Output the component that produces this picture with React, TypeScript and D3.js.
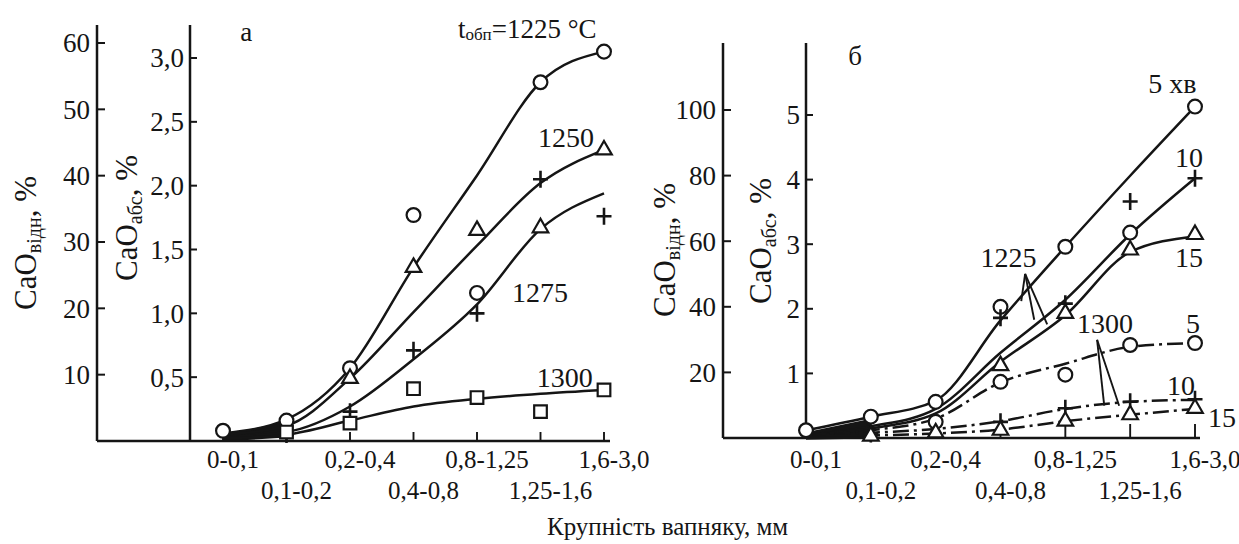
import React from "react"
import * as d3 from "d3"

const FONT = '"Liberation Serif", "Times New Roman", serif'
const INK = "#151515"

// limestone size fractions, mm
const SIZES = ["0-0,1", "0,1-0,2", "0,2-0,4", "0,4-0,8", "0,8-1,25", "1,25-1,6", "1,6-3,0"]

// panel а: y ticks
const A_ABS_TICKS = [0.5, 1, 1.5, 2, 2.5, 3]
const A_REL_TICKS = [10, 20, 30, 40, 50, 60]

// panel а: fitted curves (CaO abs, %)
const A_LINE_1225 = [0.06, 0.17, 0.57, 1.36, 2.08, 2.81, 3.05]
const A_LINE_1250 = [0.05, 0.12, 0.49, 1.01, 1.53, 2.02, 2.28]
const A_LINE_1275 = [0.03, 0.07, 0.27, 0.64, 1.07, 1.66, 1.94]
const A_LINE_1300 = [0.02, 0.05, 0.16, 0.27, 0.33, 0.37, 0.4]

// panel а: measured points
const A_CIRCLES = [0.08, 0.16, 0.57, 1.77, 1.16, 2.81, 3.05]
const A_TRIANGLES = [null, null, 0.49, 1.36, 1.65, 1.67, 2.28]
const A_PLUSES = [null, 0.05, 0.23, 0.71, 1.0, 2.05, 1.76]
const A_SQUARES = [null, 0.07, 0.14, 0.41, 0.34, 0.23, 0.4]

// panel б: y ticks
const B_ABS_TICKS = [1, 2, 3, 4, 5]
const B_REL_TICKS = [20, 40, 60, 80, 100]

// panel б: fitted curves, 1225 °C (solid) and 1300 °C (dash-dot)
const B_LINE_5 = [0.12, 0.33, 0.58, 1.82, 2.96, 4.06, 5.13]
const B_LINE_10 = [0.05, 0.18, 0.45, 1.32, 2.14, 3.15, 4.02]
const B_LINE_15 = [0.04, 0.15, 0.38, 1.18, 1.9, 2.88, 3.12]
const B_DASH_5 = [0.04, 0.12, 0.3, 0.86, 1.15, 1.41, 1.47]
const B_DASH_10 = [0.03, 0.08, 0.14, 0.26, 0.45, 0.56, 0.59]
const B_DASH_15 = [0.02, 0.04, 0.07, 0.13, 0.26, 0.36, 0.45]

// panel б: measured points
const B_CIRCLES_1225 = [0.12, 0.33, 0.56, 2.03, 2.96, 3.18, 5.13]
const B_PLUSES_1225 = [null, null, null, 1.86, 2.08, 3.66, 4.02]
const B_TRIANGLES_1225 = [null, null, null, 1.12, 1.93, 2.91, 3.15]
const B_CIRCLES_1300 = [null, null, 0.25, 0.87, 0.98, 1.44, 1.47]
const B_PLUSES_1300 = [null, 0.06, null, 0.25, 0.46, 0.56, 0.6]
const B_TRIANGLES_1300 = [null, 0.03, 0.08, 0.12, 0.26, 0.36, 0.46]

// in-plot labels: [text, category index, CaO abs]
const A_NOTES = [
  ["1250", 4.96, 2.3],
  ["1275", 4.55, 1.09],
  ["1300", 4.94, 0.42],
]
const B_NOTES = [
  ["5 хв", 5.28, 5.34],
  ["10", 5.69, 4.2],
  ["15", 5.69, 2.65],
  ["1225", 2.69, 2.65],
  ["1300", 4.18, 1.63],
  ["5", 5.86, 1.63],
  ["10", 5.57, 0.67],
  ["15", 6.2, 0.17],
]

const fmtComma = (v) => d3.format(".1f")(v).replace(".", ",")

const Marker = ({ kind, x, y }) => {
  if (kind === "plus") {
    return (
      <path
        d={`M${x - 7.5},${y}H${x + 7.5}M${x},${y - 8.5}V${y + 8.5}`}
        stroke={INK}
        strokeWidth={2.6}
      />
    )
  }
  const type =
    kind === "circle" ? d3.symbolCircle : kind === "square" ? d3.symbolSquare : d3.symbolTriangle
  const size = kind === "circle" ? 150 : kind === "square" ? 160 : 105
  return (
    <path
      transform={`translate(${x},${y})`}
      d={d3.symbol(type, size)()}
      fill="#fff"
      stroke={INK}
      strokeWidth={2.2}
    />
  )
}

const Panel = ({ cfg }) => {
  const { x, abs, rel, outerX, innerX, yBase, yTop, xEnd } = cfg
  const step = x.step()
  const x0 = x(SIZES[0])
  const fx = (i) => x0 + i * step
  const line = d3
    .line()
    .x((d, i) => x(SIZES[i]))
    .y((d) => abs(d))
    .curve(d3.curveMonotoneX)

  // the bundle of curves near the origin prints as a solid black wedge
  const top = cfg.lines[0].values
  const bottom = cfg.lines[cfg.lines.length - 1].values
  const wedge = d3
    .area()
    .x((d) => x(SIZES[d]))
    .y0((d) => abs(bottom[d]) + 3)
    .y1((d) => abs(top[d]) + 2)
    .curve(d3.curveMonotoneX)(cfg.wedge)

  return (
    <g fontFamily={FONT} fill={INK}>
      <path d={wedge} fill={INK} />

      {/* curves */}
      {cfg.lines.map((l, k) => (
        <path
          key={k}
          d={line(l.values)}
          fill="none"
          stroke={INK}
          strokeWidth={2.5}
          strokeDasharray={l.dash ? "16,5,3,5" : null}
        />
      ))}

      {/* leader lines */}
      {cfg.leaders.map((ld, k) => (
        <g key={k} stroke={INK} strokeWidth={1.9}>
          {ld.feet.map((f, j) => (
            <line key={j} x1={fx(ld.apex[0])} y1={abs(ld.apex[1])} x2={fx(f[0])} y2={abs(f[1])} />
          ))}
        </g>
      ))}

      {/* axes */}
      <g stroke={INK} strokeWidth={2.5}>
        <line x1={outerX} y1={yTop} x2={outerX} y2={yBase} />
        <line x1={innerX} y1={yTop} x2={innerX} y2={yBase} />
        <line x1={outerX} y1={yBase} x2={xEnd} y2={yBase} />
        {SIZES.map((s) => (
          <line key={s} x1={x(s)} x2={x(s)} y1={yBase} y2={yBase - cfg.xTick} strokeWidth={1.9} />
        ))}
        {cfg.relTicks.map((t) => (
          <line key={t} x1={outerX} x2={outerX + 8} y1={rel(t)} y2={rel(t)} strokeWidth={2} />
        ))}
        {cfg.absTicks.map((t) => (
          <line key={t} x1={innerX} x2={innerX + 7} y1={abs(t)} y2={abs(t)} strokeWidth={2} />
        ))}
      </g>

      {/* markers */}
      {cfg.markers.map((m, k) =>
        m.values.map((v, i) =>
          v == null ? null : <Marker key={`${k}-${i}`} kind={m.kind} x={x(SIZES[i])} y={abs(v)} />,
        ),
      )}

      {/* tick labels */}
      <g fontSize={27} textAnchor="end">
        {cfg.relTicks.map((t) => (
          <text key={t} x={outerX - 7} y={rel(t)} dy="0.35em">
            {t}
          </text>
        ))}
        {cfg.absTicks.map((t) => (
          <text key={t} x={innerX - 6} y={abs(t)} dy="0.35em">
            {cfg.absFormat(t)}
          </text>
        ))}
      </g>

      {/* category labels, two staggered rows */}
      <g fontSize={25} textAnchor="middle">
        {SIZES.map((s, i) => (
          <text key={s} x={x(s) + 10} y={i % 2 === 0 ? 468 : 499}>
            {s}
          </text>
        ))}
      </g>

      {/* y titles */}
      <text
        transform={`translate(${cfg.relTitle[0]},${cfg.relTitle[1]}) rotate(-90)`}
        textAnchor="middle"
        fontSize={31}
      >
        CaO
        <tspan fontSize={20} dy={5}>
          відн
        </tspan>
        <tspan dy={-5}>, %</tspan>
      </text>
      <text
        transform={`translate(${cfg.absTitle[0]},${cfg.absTitle[1]}) rotate(-90)`}
        textAnchor="middle"
        fontSize={31}
      >
        CaO
        <tspan fontSize={20} dy={5}>
          абс
        </tspan>
        <tspan dy={-5}>, %</tspan>
      </text>

      {/* in-plot labels */}
      <g fontSize={28}>
        {cfg.notes.map(([t, i, v], k) => (
          <text key={k} x={fx(i)} y={abs(v)}>
            {t}
          </text>
        ))}
      </g>
      <text x={fx(cfg.letter[1])} y={abs(cfg.letter[2])} fontSize={27}>
        {cfg.letter[0]}
      </text>
      {cfg.extra}
    </g>
  )
}

const panelA = {
  x: d3.scalePoint().domain(SIZES).range([223, 604]),
  abs: d3.scaleLinear().domain([0, 3]).range([441, 58]),
  rel: d3.scaleLinear().domain([0, 60]).range([441, 43]),
  outerX: 97,
  innerX: 190,
  yBase: 441,
  yTop: 25,
  xEnd: 610,
  xTick: 9,
  absTicks: A_ABS_TICKS,
  relTicks: A_REL_TICKS,
  absFormat: fmtComma,
  relTitle: [36, 243],
  absTitle: [137, 218],
  lines: [
    { values: A_LINE_1225 },
    { values: A_LINE_1250 },
    { values: A_LINE_1275 },
    { values: A_LINE_1300 },
  ],
  wedge: [0, 1],
  markers: [
    { kind: "circle", values: A_CIRCLES },
    { kind: "triangle", values: A_TRIANGLES },
    { kind: "plus", values: A_PLUSES },
    { kind: "square", values: A_SQUARES },
  ],
  leaders: [],
  notes: A_NOTES,
  letter: ["а", 0.27, 3.13],
}
panelA.extra = (
  <text
    x={panelA.x(SIZES[0]) + 3.7 * panelA.x.step()}
    y={panelA.abs(3.16)}
    fontSize={27}
  >
    t
    <tspan fontSize={17} dy={2}>
      обп
    </tspan>
    <tspan dy={-2}>=1225 °C</tspan>
  </text>
)

const panelB = {
  x: d3.scalePoint().domain(SIZES).range([806, 1195]),
  abs: d3.scaleLinear().domain([0, 5]).range([438, 115]),
  rel: d3.scaleLinear().domain([0, 100]).range([438, 110]),
  outerX: 723,
  innerX: 806,
  yBase: 438,
  yTop: 43,
  xEnd: 1200,
  xTick: 14,
  absTicks: B_ABS_TICKS,
  relTicks: B_REL_TICKS,
  absFormat: (v) => String(v),
  relTitle: [675, 250],
  absTitle: [771, 241],
  lines: [
    { values: B_LINE_5 },
    { values: B_LINE_10 },
    { values: B_LINE_15 },
    { values: B_DASH_5, dash: true },
    { values: B_DASH_10, dash: true },
    { values: B_DASH_15, dash: true },
  ],
  wedge: [0, 1],
  markers: [
    { kind: "circle", values: B_CIRCLES_1225 },
    { kind: "plus", values: B_PLUSES_1225 },
    { kind: "triangle", values: B_TRIANGLES_1225 },
    { kind: "circle", values: B_CIRCLES_1300 },
    { kind: "plus", values: B_PLUSES_1300 },
    { kind: "triangle", values: B_TRIANGLES_1300 },
  ],
  leaders: [
    { apex: [3.38, 2.54], feet: [[3.32, 2.12], [3.52, 1.83], [3.72, 1.76]] },
    { apex: [4.49, 1.52], feet: [[4.6, 0.5], [4.83, 0.5]] },
  ],
  notes: B_NOTES,
  letter: ["б", 0.65, 5.77],
  extra: null,
}

export default function App() {
  return (
    <svg
      width={1239}
      height={544}
      style={{ position: "absolute", left: 0, top: 0, background: "#fff" }}
    >
      <rect width={1239} height={544} fill="#fff" />
      <Panel cfg={panelA} />
      <Panel cfg={panelB} />
      <text x={547} y={535} fontFamily={FONT} fontSize={25} fill={INK}>
        Крупність вапняку, мм
      </text>
    </svg>
  )
}
